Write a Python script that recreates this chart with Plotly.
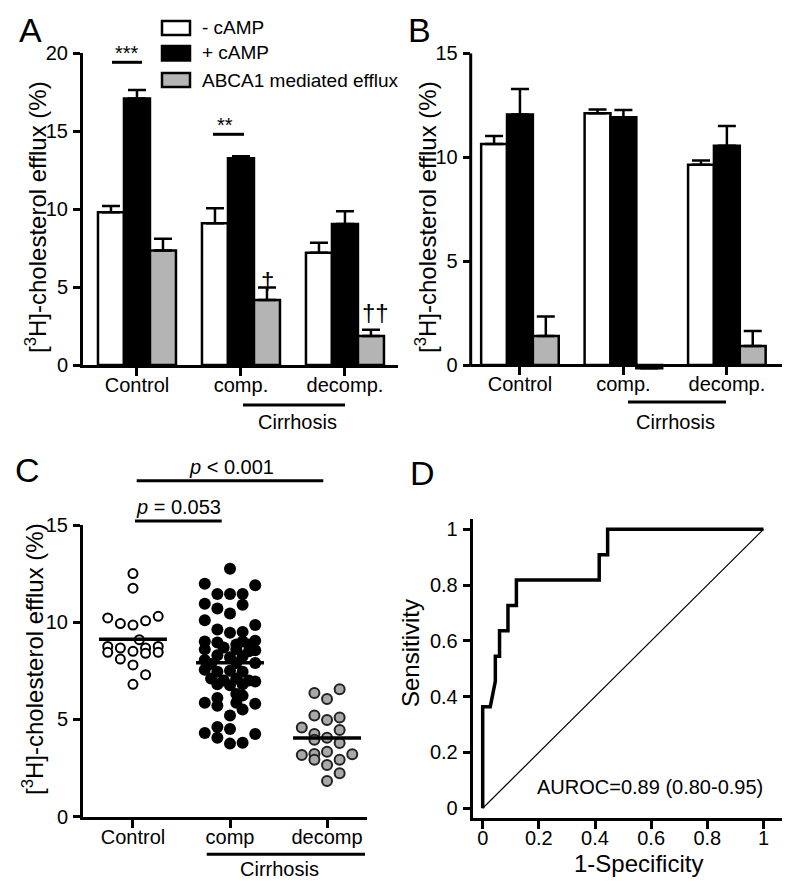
import plotly.graph_objects as go
import numpy as np

W, H = 800, 895
FONT = "Liberation Sans, Arial, sans-serif"


def px(x):
    return x / W


def py(y):
    return 1 - y / H


# ---------------- data ----------------
groups_ab = ["Control", "comp.", "decomp."]
groups_c = ["Control", "comp", "decomp"]
series_names = ["- cAMP", "+ cAMP", "ABCA1 mediated efflux"]
series_colors = ["white", "black", "#b4b4b4"]

# Panel A
a_minus = [9.8, 9.1, 7.2]
a_minus_err = [0.4, 0.95, 0.65]
a_plus = [17.1, 13.27, 9.05]
a_plus_err = [0.55, 0.13, 0.82]
a_abca1 = [7.34, 4.17, 1.86]
a_abca1_err = [0.76, 0.8, 0.4]

# Panel B
b_minus = [10.64, 12.11, 9.64]
b_minus_err = [0.38, 0.19, 0.2]
b_plus = [12.06, 11.92, 10.55]
b_plus_err = [1.22, 0.35, 0.95]
b_abca1 = [1.40, -0.15, 0.91]
b_abca1_err = [0.93, 0.0, 0.73]

# Panel C (individual values, with swarm column slot)
control_vals = [12.5, 11.75, 10.22, 9.93, 9.85, 10.07, 10.3, 9.1, 8.75, 8.67,
                8.67, 8.75, 8.45, 8.5, 8.4, 8.45, 8.1, 7.8, 7.3, 6.8]
control_slot = [0, 0, -2, -1, 0, 1, 2, 0.5, -2, -1,
                1, 2, -2, 0, 1, 2, -1, 0, 1, 0]

comp_vals = [12.75,
             11.98, 11.9,
             11.45, 11.45, 11.45,
             10.95, 10.9, 10.7, 10.45,
             10.1,
             9.62, 9.45, 9.5, 9.85,
             9.0, 8.95, 8.85, 8.85, 9.05, 9.0,
             8.6, 8.7, 8.6, 8.5, 8.55,
             8.3, 8.2, 8.25, 8.05,
             7.85, 7.9, 7.9,
             7.55, 7.45, 7.5, 7.45,
             7.1, 7.0, 7.1, 7.0, 6.95,
             6.8, 6.75, 6.8,
             6.1, 6.3, 6.22,
             5.85, 5.7, 5.85, 5.5, 5.8,
             5.2,
             4.6, 4.5,
             4.3, 4.25,
             4.05,
             3.75, 3.8]
comp_slot = [0,
             -2, 2,
             -1, 0, 1,
             -2, 1, -1, 0,
             -2,
             -1, 0, 1, 2,
             -2, -1, 0.5, 1.5, 2, 1,
             -2, -0.5, 0.5, 1.5, 2,
             -1, 0, 1, -2,
             -1.5, 0.5, 2,
             -2, -1, 0, 1,
             -1.5, -0.5, 0.5, 1.5, 2,
             -1, 0, 1,
             -1, 0.5, 1,
             -2, -1, 0.5, 1, 2,
             0,
             -1, 0,
             -2, 2,
             -1,
             0, 1]

decomp_vals = [6.35, 6.55, 6.05, 5.2, 4.97, 5.1, 4.58, 4.25, 4.45, 4.05, 3.95,
               3.78, 3.17, 3.22, 2.92, 3.33, 2.92, 3.2, 2.65, 2.22, 1.83]
decomp_slot = [-1, 1, 0, -1, 0, 1, -2, -1, 1, 0, -1,
               1, -2, -1, -1, 0, 1, 2, 0, 1, 0]

# Panel D (ROC curve)
roc_fpr = [0, 0, 0.027, 0.045, 0.045, 0.06, 0.06, 0.09, 0.09, 0.12, 0.12,
           0.415, 0.415, 0.445, 0.445, 1.0]
roc_tpr = [0, 0.364, 0.364, 0.455, 0.545, 0.545, 0.636, 0.636, 0.727, 0.727,
           0.818, 0.818, 0.909, 0.909, 1.0, 1.0]
d_ticks = [0, 0.2, 0.4, 0.6, 0.8, 1.0]
d_ticktext = ["0", "0.2", "0.4", "0.6", "0.8", "1"]

# ---------------- figure ----------------
fig = go.Figure()

SLOT = 0.13
BW = 0.25


def add_bars(vals_list, errs_list, xa, ya):
    for i, (vals, errs) in enumerate(zip(vals_list, errs_list)):
        fig.add_trace(go.Bar(
            x=[0, 1, 2], y=vals, width=BW, offset=-0.375 + BW * i,
            marker=dict(color=series_colors[i], line=dict(color="black", width=2.5)),
            error_y=dict(type="data", array=errs, arrayminus=[0] * len(errs),
                         symmetric=False, color="black", thickness=2.5, width=9),
            name=series_names[i], xaxis=xa, yaxis=ya, showlegend=False,
        ))


add_bars([a_minus, a_plus, a_abca1], [a_minus_err, a_plus_err, a_abca1_err], "x", "y")
add_bars([b_minus, b_plus, b_abca1], [b_minus_err, b_plus_err, b_abca1_err], "x2", "y2")

# Panel C scatter
scatter_specs = [
    (0, control_vals, control_slot, dict(size=9, color="white", line=dict(color="black", width=2))),
    (1, comp_vals, comp_slot, dict(size=12, color="black", line=dict(color="black", width=0))),
    (2, decomp_vals, decomp_slot, dict(size=10, color="#a8a8a8", line=dict(color="#222222", width=2))),
]
for g, vals, slots, mk in scatter_specs:
    xs = [g + s * SLOT for s in slots]
    fig.add_trace(go.Scatter(x=xs, y=vals, mode="markers", marker=dict(symbol="circle", **mk),
                             xaxis="x3", yaxis="y3", showlegend=False, cliponaxis=False))
for g, vals, _, _ in scatter_specs:
    m = float(np.mean(vals))
    fig.add_trace(go.Scatter(x=[g - 0.35, g + 0.35], y=[m, m], mode="lines",
                             line=dict(color="black", width=3.5),
                             xaxis="x3", yaxis="y3", showlegend=False))

# Panel D
fig.add_trace(go.Scatter(x=[0, 1], y=[0, 1], mode="lines", line=dict(color="black", width=1.2),
                         xaxis="x4", yaxis="y4", showlegend=False))
fig.add_trace(go.Scatter(x=roc_fpr, y=roc_tpr, mode="lines", line=dict(color="black", width=3.5),
                         xaxis="x4", yaxis="y4", showlegend=False, cliponaxis=False))

axis_common = dict(showgrid=False, zeroline=False, showline=True, linecolor="black", linewidth=3,
                   ticks="outside", tickwidth=3, tickcolor="black", automargin=False,
                   tickfont=dict(size=20, color="black", family=FONT))
x_common = dict(ticklen=8, ticklabelstandoff=-8, **axis_common)
y_common = dict(ticklen=7, ticklabelstandoff=1, **axis_common)

fig.update_layout(
    xaxis=dict(domain=[px(83), px(398)], range=[-0.519, 2.51], anchor="y",
               tickvals=[0, 1, 2], ticktext=groups_ab, **x_common),
    yaxis=dict(domain=[py(365), py(53.3)], range=[0, 20], anchor="x",
               tickvals=[0, 5, 10, 15, 20], **y_common),
    xaxis2=dict(domain=[px(470.7), px(781.7)], range=[-0.476, 2.53], anchor="free",
                position=py(365), tickvals=[0, 1, 2], ticktext=groups_ab, **x_common),
    yaxis2=dict(domain=[py(372.3), py(53.3)], range=[-0.35, 15], anchor="x2",
                tickvals=[0, 5, 10, 15], **{**y_common, "showline": False}),
    xaxis3=dict(domain=[px(83), px(367)], range=[-0.515, 2.412], anchor="y3",
                tickvals=[0, 1, 2], ticktext=groups_c, **x_common),
    yaxis3=dict(domain=[py(816.5), py(525)], range=[0, 15], anchor="x3",
                tickvals=[0, 5, 10, 15], **y_common),
    xaxis4=dict(domain=[px(472.7), px(781.7)], range=[-0.0356, 1.065], anchor="y4",
                tickvals=d_ticks, ticktext=d_ticktext, **x_common),
    yaxis4=dict(domain=[py(817.7), py(519)], range=[-0.034, 1.037], anchor="x4",
                tickvals=d_ticks, ticktext=d_ticktext, **y_common),
)

shapes = []


def hline(x0, x1, y, w=3):
    shapes.append(dict(type="line", xref="paper", yref="paper", x0=px(x0), x1=px(x1),
                       y0=py(y), y1=py(y), line=dict(color="black", width=w)))


# B y-axis line (drawn from 0 up to 15)
shapes.append(dict(type="line", xref="x2 domain", yref="y2", x0=0, x1=0, y0=-0.08, y1=15,
                   line=dict(color="black", width=3)))

# significance / group lines
hline(112, 142, 62.3)     # ***
hline(213, 244, 134.3)    # **
hline(243, 345, 405)      # Cirrhosis A
hline(628, 726, 402)      # Cirrhosis B
hline(136.7, 323.3, 480.7)  # p<0.001
hline(135, 221.7, 521)    # p=0.053
hline(206.7, 365, 854.3)  # Cirrhosis C

# legend boxes (panel A)
for (y0, y1), col in zip([(21, 35), (46, 60.5), (73, 87)], series_colors):
    shapes.append(dict(type="rect", xref="paper", yref="paper", x0=px(162), x1=px(190),
                       y0=py(y1), y1=py(y0), fillcolor=col, line=dict(color="black", width=2.5)))

annotations = []


def text(x, y, s, size=20, xanchor="center", yanchor="middle", angle=0):
    annotations.append(dict(xref="paper", yref="paper", x=px(x), y=py(y), text=s, showarrow=False,
                            xanchor=xanchor, yanchor=yanchor, textangle=angle,
                            font=dict(size=size, color="black", family=FONT)))


# panel letters
text(30, 30, "A", 34)
text(419, 30, "B", 34)
text(27, 470, "C", 34)
text(422, 473, "D", 34)

# legend text
for yc, name in zip([28, 53, 80], series_names):
    text(200, yc, name, 19, xanchor="left")

# y titles
ytitle = "[<sup>3</sup>H]-cholesterol efflux (%)"
text(36, 217, ytitle, 24, angle=-90)
text(426, 217, ytitle, 24, angle=-90)
text(33, 659, ytitle, 24, angle=-90)
text(410, 653, "Sensitivity", 24, angle=-90)
text(638, 863, "1-Specificity", 24)

# significance marks
text(127, 53, "***", 20)
text(225, 125, "**", 20)
text(267, 280, "†", 24)
text(375, 312, "††", 24)

# cirrhosis labels
text(297, 422, "Cirrhosis", 20)
text(675, 422, "Cirrhosis", 20)
text(279, 869, "Cirrhosis", 20)

# p values
text(231, 467, "<i>p</i> < 0.001", 20)
text(178, 507, "<i>p</i> = 0.053", 20)

# AUROC
text(650, 787, "AUROC=0.89 (0.80-0.95)", 20)

fig.update_layout(
    shapes=shapes, annotations=annotations,
    width=W, height=H, margin=dict(l=0, r=0, t=0, b=0, autoexpand=False),
    plot_bgcolor="white", paper_bgcolor="white", showlegend=False,
    barmode="overlay", font=dict(family=FONT, color="black"),
)

fig.write_html("out.html", config={"displayModeBar": False},
               post_script="document.body.style.margin='0';")
